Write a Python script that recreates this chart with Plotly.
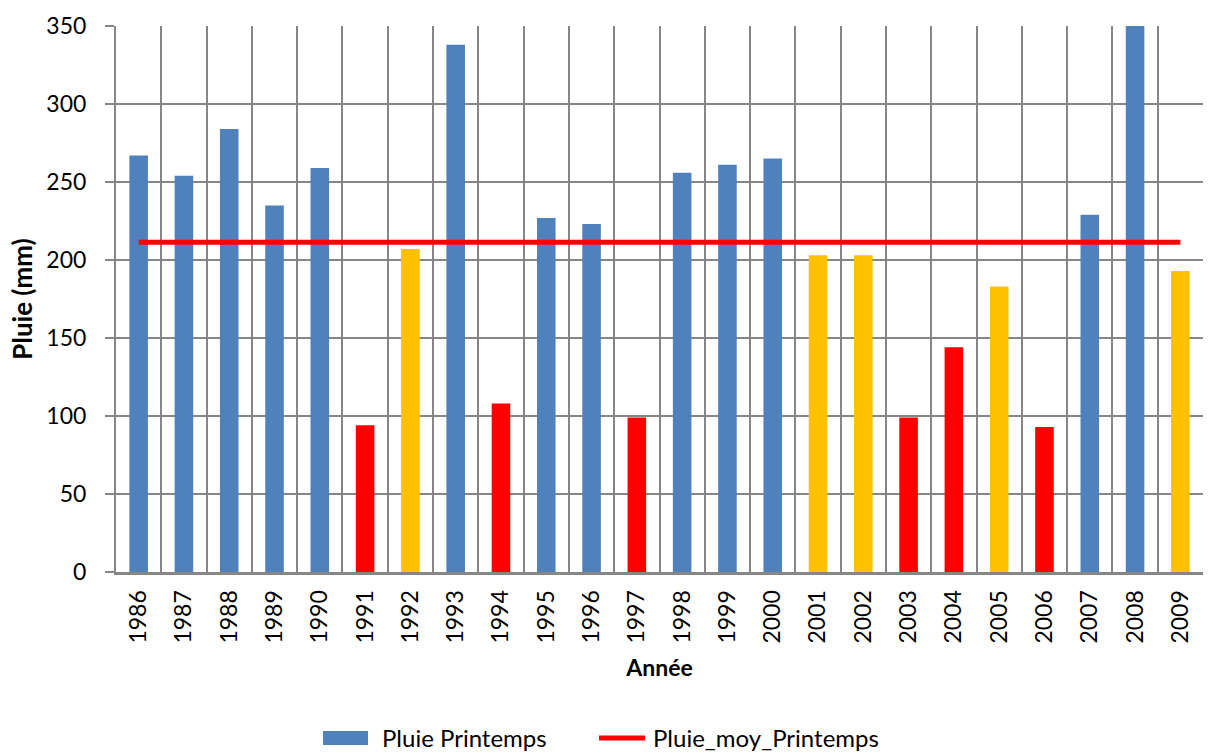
import plotly.graph_objects as go

# Spring rainfall per year (mm)
annees = [str(a) for a in range(1986, 2010)]
pluie_printemps = [267, 254, 284, 235, 259, 94, 207, 338, 108, 227, 223, 99,
                   256, 261, 265, 203, 203, 99, 144, 183, 93, 229, 350, 193]
# Spring average (mm)
pluie_moy = 211.4
seuil_sec = 150

BLEU = "#4F81BD"
ROUGE = "#FF0000"
ORANGE = "#FFC000"
GRIS = "#868686"
FONT = "Lato"

W, H = 1213, 753
M_L, M_R, M_T, M_B = 116, 10, 26, 181
PLOT_W = W - M_L - M_R
PLOT_H = H - M_T - M_B


def couleur(v):
    if v >= pluie_moy:
        return BLEU
    if v < seuil_sec:
        return ROUGE
    return ORANGE


def px_x(px):
    return (px - M_L) / PLOT_W


def px_y(py):
    return (H - M_B - py) / PLOT_H


fig = go.Figure()
fig.add_trace(go.Bar(
    x=annees, y=pluie_printemps, name="Pluie Printemps",
    marker=dict(color=[couleur(v) for v in pluie_printemps], line=dict(width=0)),
    showlegend=False,
))
fig.add_trace(go.Scatter(
    x=annees, y=[pluie_moy] * len(annees), name="Pluie_moy_Printemps",
    mode="lines", line=dict(color=ROUGE, width=5),
    showlegend=False,
))

# Legend drawn below the axis: wide swatches with labels
leg_y = 737
fig.add_shape(type="rect", xref="paper", yref="paper",
              x0=px_x(323), x1=px_x(368), y0=px_y(731), y1=px_y(745),
              fillcolor=BLEU, line=dict(width=0))
fig.add_shape(type="line", xref="paper", yref="paper",
              x0=px_x(599), x1=px_x(645), y0=px_y(leg_y + 1), y1=px_y(leg_y + 1),
              line=dict(color=ROUGE, width=5))
fig.add_annotation(text="Pluie Printemps", xref="paper", yref="paper",
                   x=px_x(381), y=px_y(leg_y), xanchor="left", yanchor="middle",
                   showarrow=False, font=dict(size=24), borderpad=0)
fig.add_annotation(text="Pluie_moy_Printemps", xref="paper", yref="paper",
                   x=px_x(652), y=px_y(leg_y), xanchor="left", yanchor="middle",
                   showarrow=False, font=dict(size=24), borderpad=0)

fig.update_layout(
    width=W, height=H,
    margin=dict(l=M_L, r=M_R, t=M_T, b=M_B),
    paper_bgcolor="white", plot_bgcolor="white",
    font=dict(family=FONT, size=22, color="black"),
    bargap=0.59,
    showlegend=False,
)
fig.update_xaxes(
    type="category", tickangle=-90, ticks="", tickson="boundaries",
    showgrid=True, gridcolor=GRIS, gridwidth=2,
    showline=True, linecolor=GRIS, linewidth=3, mirror=False,
    tickfont=dict(size=23), ticklabelstandoff=6, automargin=False,
    title=dict(text="<b>Année</b>", font=dict(size=23), standoff=18),
)
fig.update_yaxes(
    range=[0, 350], dtick=50, ticks="outside", ticklen=9, tickcolor=GRIS, tickwidth=2,
    showgrid=True, gridcolor=GRIS, gridwidth=2,
    showline=True, linecolor=GRIS, linewidth=2, automargin=False,
    tickfont=dict(size=23), ticklabelstandoff=14,
    title=dict(text="<b>Pluie (mm)</b>", font=dict(size=26), standoff=6),
    zeroline=False,
)

fig.write_html("out.html")
